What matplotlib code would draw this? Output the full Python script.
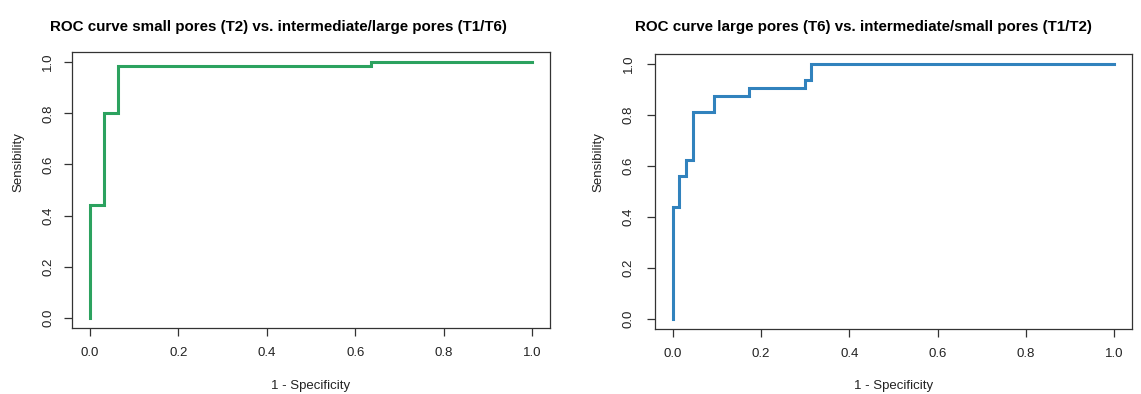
import matplotlib.pyplot as plt

plt.rcParams['font.family'] = ['Liberation Sans', 'DejaVu Sans']

# false positive rate (1 - specificity) and sensitivity at each threshold
fpr_small = [0.0, 0.0, 0.032, 0.032, 0.065, 0.065, 0.636, 0.636, 1.0]
tpr_small = [0.0, 0.44, 0.44, 0.80, 0.80, 0.985, 0.985, 1.0, 1.0]

fpr_large = [0.0, 0.0, 0.015, 0.015, 0.030, 0.030, 0.046, 0.046, 0.093, 0.093,
             0.173, 0.173, 0.299, 0.299, 0.314, 0.314, 1.0]
tpr_large = [0.0, 0.4375, 0.4375, 0.5625, 0.5625, 0.625, 0.625, 0.8125, 0.8125,
             0.875, 0.875, 0.906, 0.906, 0.9375, 0.9375, 1.0, 1.0]

titles = ['ROC curve small pores (T2) vs. intermediate/large pores (T1/T6)',
          'ROC curve large pores (T6) vs. intermediate/small pores (T1/T2)']
colors = ['#2ca25f', '#3182bd']
ticks = [0.0, 0.2, 0.4, 0.6, 0.8, 1.0]
tick_labels = ['0.0', '0.2', '0.4', '0.6', '0.8', '1.0']

W, H = 1141, 394
fig = plt.figure(figsize=(W / 100, H / 100), dpi=100)

# axes boxes in pixels: left, right, top, bottom
boxes = [(72, 550, 52, 328), (655, 1132, 54, 329)]
title_x = [278, 863]
ylabel_x = [18, 598]
yticklab_x = [48, 629]

curves = [(fpr_small, tpr_small), (fpr_large, tpr_large)]

for i, (x, y) in enumerate(curves):
    l, r, t, b = boxes[i]
    ax = fig.add_axes([l / W, 1 - b / H, (r - l) / W, (b - t) / H])
    ax.plot(x, y, color=colors[i], lw=2.2, solid_joinstyle='miter')
    ax.set_xlim(-0.04, 1.04)
    ax.set_ylim(-0.04, 1.04)
    ax.set_xticks(ticks)
    ax.set_yticks(ticks)
    ax.set_xticklabels(tick_labels, fontsize=9.5, color='#222222')
    ax.set_yticklabels([])
    ax.tick_params(direction='out', length=5.5, width=0.9, color='#333333', pad=8)
    for s in ax.spines.values():
        s.set_color('#333333')
        s.set_linewidth(0.9)
    # R-style vertical tick labels on the y axis
    for v, lab in zip(ticks, tick_labels):
        yp = t + (1.04 - v) / 1.08 * (b - t)
        fig.text(yticklab_x[i] / W, 1 - yp / H, lab, rotation=90, fontsize=9.5,
                 color='#222222', ha='center', va='center')
    fig.text(title_x[i] / W, 1 - 27 / H, titles[i], fontsize=10.9,
             fontweight='bold', ha='center', va='center')
    fig.text(ylabel_x[i] / W, 1 - 162 / H, 'Sensibility', rotation=90,
             fontsize=9.5, color='#222222', ha='center', va='center')
    fig.text((l + r) / 2 / W, 1 - 386 / H, '1 - Specificity', fontsize=9.5,
             color='#222222', ha='center', va='center')

fig.savefig('out.png', dpi=100)
